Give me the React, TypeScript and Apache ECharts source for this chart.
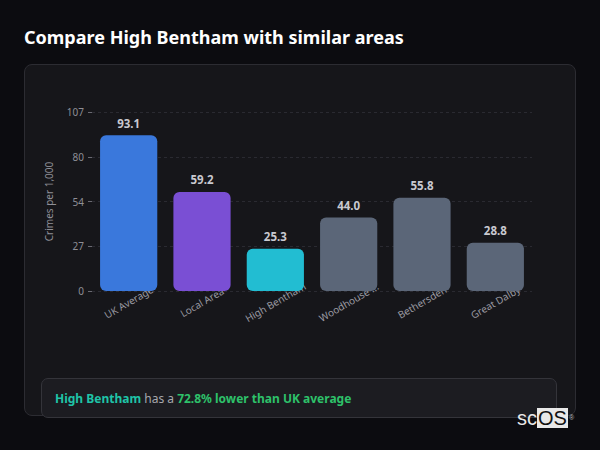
import React, { useEffect, useRef } from 'react'
import * as echarts from 'echarts'

const areas = ['UK Average', 'Local Area', 'High Bentham', 'Woodhouse Eaves', 'Bethersden', 'Great Dalby']
const crimeRates = [93.1, 59.2, 25.3, 44.0, 55.8, 28.8]
const barColors = ['#3a78dc', '#7a4fd4', '#22bdd2', '#5b6678', '#5b6678', '#5b6678']
const axisMax = 107

const CrimeChart = () => {
  const chartRef = useRef<HTMLDivElement>(null)

  useEffect(() => {
    if (!chartRef.current) return
    const chart = echarts.init(chartRef.current, undefined, { renderer: 'svg' })

    const option = {
      animation: false,
      grid: { left: 67, right: 45, top: 47, bottom: 84 },
      xAxis: {
        type: 'category',
        data: areas,
        axisLine: { show: false },
        axisTick: { show: false },
        axisLabel: {
          rotate: 30,
          align: 'center',
          margin: 11,
          color: '#9a9aa2',
          fontSize: 10,
          fontFamily: 'Noto Sans',
          interval: 0,
          formatter: (v: string) => (v.length > 12 ? v.slice(0, 10) + '...' : v),
        },
      },
      yAxis: {
        type: 'value',
        min: 0,
        max: axisMax,
        interval: axisMax / 4,
        name: 'Crimes per 1,000',
        nameLocation: 'middle',
        nameRotate: 90,
        nameGap: 38,
        nameTextStyle: { color: '#8e8e96', fontSize: 10, fontFamily: 'Noto Sans' },
        axisLine: { show: false },
        axisTick: { show: true, length: 4, lineStyle: { color: '#6a6a72' } },
        axisLabel: {
          color: '#8e8e96',
          fontSize: 10,
          fontFamily: 'Noto Sans',
          margin: 8,
          formatter: (v: number) => String(Math.round(v)),
        },
        splitLine: { lineStyle: { color: '#2a2a31', type: [3, 3] } },
      },
      series: [
        {
          type: 'bar',
          barWidth: '78%',
          data: crimeRates.map((v, i) => ({
            value: v,
            itemStyle: { color: barColors[i], borderRadius: 6 },
          })),
          label: {
            show: true,
            position: 'top',
            distance: 6,
            color: '#c9c9d0',
            fontSize: 11.5,
            fontWeight: 'bold',
            fontFamily: 'Noto Sans',
            formatter: (p: any) => p.value.toFixed(1),
          },
        },
      ],
    }

    chart.setOption(option)
    return () => {
      chart.dispose()
    }
  }, [])

  return <div ref={chartRef} style={{ position: 'absolute', left: 0, top: 0, width: 552, height: 310 }} />
}

export default function App() {
  return (
    <div
      style={{
        position: 'fixed',
        inset: 0,
        background: '#0c0c10',
        fontFamily: '"Noto Sans", sans-serif',
        overflow: 'hidden',
      }}
    >
      <div
        style={{
          position: 'absolute',
          left: 24,
          top: 24,
          color: '#ffffff',
          fontSize: 18,
          fontWeight: 700,
          lineHeight: '26px',
        }}
      >
        Compare High Bentham with similar areas
      </div>
      <div
        style={{
          position: 'absolute',
          left: 24,
          top: 64,
          width: 550,
          height: 350,
          background: '#16161a',
          border: '1px solid #2c2c32',
          borderRadius: 8,
        }}
      >
        <CrimeChart />
      </div>
      <div
        style={{
          position: 'absolute',
          left: 41,
          top: 378,
          width: 516,
          height: 40,
          background: '#1c1c21',
          border: '1px solid #34343a',
          borderRadius: 7,
          boxSizing: 'border-box',
          padding: '0 13px',
          display: 'flex',
          alignItems: 'center',
          fontSize: 12,
        }}
      >
        <span style={{ color: '#1fc4a8', fontWeight: 700 }}>High Bentham</span>
        <span style={{ color: '#a8a8ae' }}>&nbsp;has a&nbsp;</span>
        <span style={{ color: '#2ec16a', fontWeight: 700 }}>72.8% lower than UK average</span>
      </div>
      <div
        style={{
          position: 'absolute',
          left: 517,
          top: 408,
          height: 20,
          display: 'flex',
          alignItems: 'center',
          fontFamily: '"Liberation Sans", Arial, sans-serif',
          fontSize: 20,
          lineHeight: '20px',
        }}
      >
        <span style={{ color: '#e8e8e8' }}>sc</span>
        <span style={{ color: '#111', background: '#e8e8e8', padding: '0 1px' }}>OS</span>
        <span style={{ color: '#bbb', fontSize: 7, alignSelf: 'flex-start', marginLeft: 1 }}>®</span>
      </div>
    </div>
  )
}
